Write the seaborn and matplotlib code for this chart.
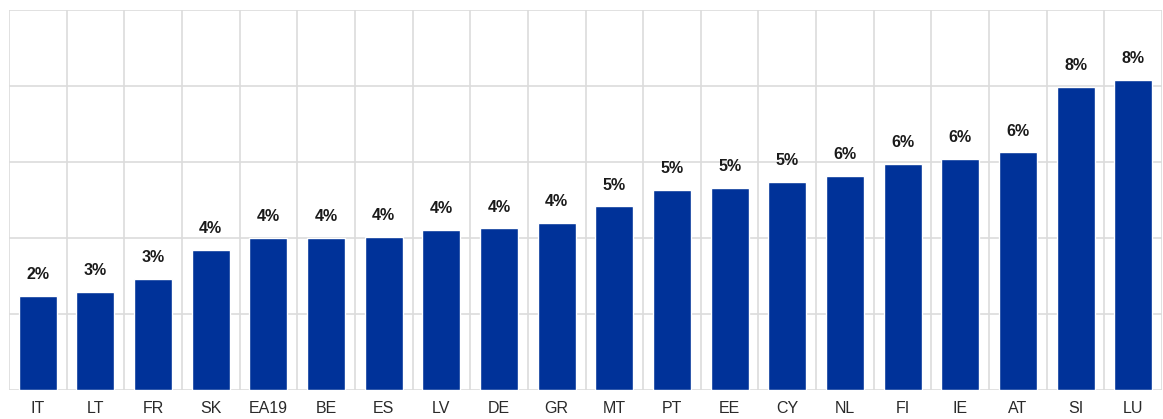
import numpy as np
import pandas as pd
import matplotlib
matplotlib.use("Agg")
import matplotlib.pyplot as plt
import seaborn as sns

countries = ["IT", "LT", "FR", "SK", "EA19", "BE", "ES", "LV", "DE", "GR",
             "MT", "PT", "EE", "CY", "NL", "FI", "IE", "AT", "SI", "LU"]
shares = [2.48, 2.57, 2.93, 3.68, 3.99, 4.0, 4.03, 4.21, 4.25, 4.39,
          4.83, 5.26, 5.31, 5.48, 5.64, 5.95, 6.08, 6.25, 7.98, 8.16]

df = pd.DataFrame({"country": countries, "share": shares})

sns.set_theme(style="white")
plt.rcParams["font.family"] = ["Liberation Sans", "DejaVu Sans"]

fig = plt.figure(figsize=(11.63, 4.19), dpi=100)
ax = fig.add_axes([9 / 1163, 29 / 419, 1153 / 1163, 380 / 419])

sns.barplot(data=df, x="country", y="share", color="#003299",
            saturation=1, width=0.66, ax=ax, zorder=3)

ax.set_ylim(0, 10)
ax.set_xlim(-0.5, len(countries) - 0.5)
ax.set_yticks(np.arange(0, 11, 2))
ax.set_yticklabels([])
ax.set_xticks(np.arange(-0.5, len(countries), 1), minor=True)
ax.tick_params(axis="both", which="both", length=0)
ax.tick_params(axis="x", which="major", labelsize=11.5, colors="#2a2a2a", pad=8)
ax.grid(axis="y", which="major", color="#dcdcdc", linewidth=1.2, zorder=0)
ax.grid(axis="x", which="minor", color="#dcdcdc", linewidth=1.2, zorder=0)
ax.set_xlabel("")
ax.set_ylabel("")
for s in ax.spines.values():
    s.set_visible(False)

for i, v in enumerate(shares):
    ax.annotate(f"{v:.0f}%", (i, v), xytext=(0, 10), textcoords="offset points",
                ha="center", va="bottom", fontsize=11.5, fontweight="bold",
                color="#1a1a1a")

fig.savefig("out.png", dpi=100, facecolor="white")
